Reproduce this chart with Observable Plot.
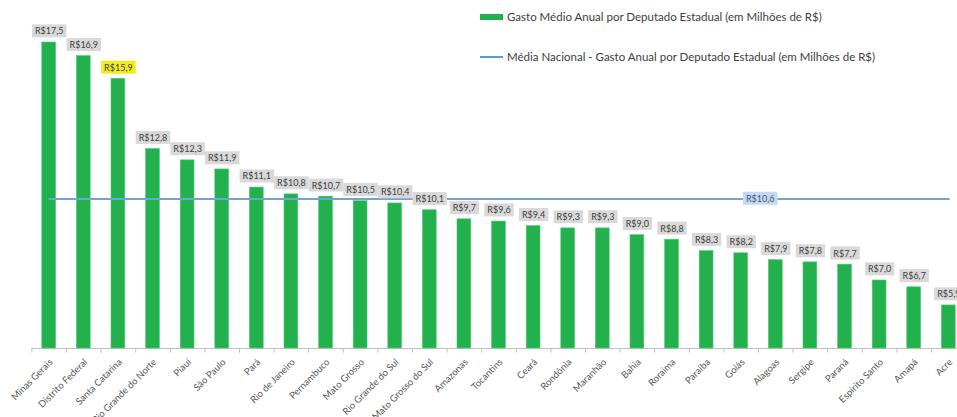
<!DOCTYPE html>
<html>
<head>
<meta charset="utf-8">
<script src="https://cdn.jsdelivr.net/npm/d3@7"></script>
<script src="https://cdn.jsdelivr.net/npm/@observablehq/plot@0.6"></script>
<style>
  html, body { margin: 0; padding: 0; background: #fff; }
  #wrap { position: relative; width: 957px; height: 417px; font-family: Lato, "Open Sans", sans-serif; }
  .legend { position: absolute; left: 480px; font-size: 11.5px; color: #404040; display: flex; align-items: center; white-space: nowrap; }
  .legend .sw { width: 23px; margin-right: 4px; }
</style>
</head>
<body>
<div id="wrap">
  <div class="legend" style="top:10px;"><div class="sw" style="height:6px;background:#22b14c;"></div>Gasto Médio Anual por Deputado Estadual (em Milhões de R$)</div>
  <div class="legend" style="top:50px;"><div class="sw" style="height:2px;background:#5b9bd5;"></div>Média Nacional - Gasto Anual por Deputado Estadual (em Milhões de R$)</div>
</div>
<script>
const states = ["Minas Gerais","Distrito Federal","Santa Catarina","Rio Grande do Norte","Piauí","São Paulo","Pará","Rio de Janeiro","Pernambuco","Mato Grosso","Rio Grande do Sul","Mato Grosso do Sul","Amazonas","Tocantins","Ceará","Rondônia","Maranhão","Bahia","Roraima","Paraíba","Goiás","Alagoas","Sergipe","Paraná","Espírito Santo","Amapá","Acre"];
const values = [17.5,16.9,15.9,12.8,12.3,11.9,11.1,10.8,10.7,10.5,10.4,10.1,9.7,9.6,9.4,9.3,9.3,9.0,8.8,8.3,8.2,7.9,7.8,7.7,7.0,6.7,5.9];
const meanValue = 10.6;
const highlightState = "Santa Catarina";
const meanLabelState = "Goiás";
const yDomain = [4, 17.5];

const fmt = v => "R$" + v.toFixed(1).replace(".", ",");
const data = states.map((s, i) => ({state: s, value: values[i]}));

const chart = Plot.plot({
  width: 957,
  height: 417,
  marginLeft: 31,
  marginRight: 0,
  marginTop: 42,
  marginBottom: 69,
  style: {fontFamily: "Lato, 'Open Sans', sans-serif", background: "transparent"},
  x: {domain: states, range: [31.4, 965.6], paddingInner: 0.6, paddingOuter: 0.3, round: false, axis: null},
  y: {domain: yDomain, axis: null},
  marks: [
    Plot.ruleY([yDomain[0]], {stroke: "#bfbfbf", strokeWidth: 1}),
    Plot.ruleX(states, {x: d => d, y1: yDomain[0], y2: yDomain[0] - 0.2, dx: -17.3, stroke: "#bfbfbf"}),
    Plot.barY(data, {x: "state", y1: yDomain[0], y2: "value", fill: "#22b14c", stroke: "#5cc97a", strokeWidth: 0.6}),
    Plot.lineY(states, {x: d => d, y: () => meanValue, stroke: "#6fa3da", strokeWidth: 2}),
    Plot.text(data, {x: "state", y: "value", dy: -11, text: d => fmt(d.value), fontSize: 9, fill: "#404040"}),
    Plot.text([meanValue], {x: () => meanLabelState, y: d => d, dx: 19, text: d => fmt(d), fontSize: 9, fill: "#3f5b7c"}),
    Plot.text(states, {x: d => d, y: yDomain[0], text: d => d, rotate: -45, textAnchor: "end", dy: 12, dx: 2, fontSize: 9.5, fill: "#595959"})
  ]
});
document.getElementById("wrap").appendChild(chart);
chart.style.position = "absolute";
chart.style.left = "0";
chart.style.top = "0";

function boxes(group, colorFn) {
  group.querySelectorAll("text").forEach((t, i) => {
    const b = t.getBBox();
    const r = document.createElementNS("http://www.w3.org/2000/svg", "rect");
    r.setAttribute("x", b.x - 3);
    r.setAttribute("y", b.y - 1);
    r.setAttribute("width", b.width + 6);
    r.setAttribute("height", b.height + 2);
    r.setAttribute("fill", colorFn(i));
    r.setAttribute("stroke", "none");
    const tr = t.getAttribute("transform");
    if (tr) r.setAttribute("transform", tr);
    t.parentNode.insertBefore(r, t);
  });
}
const textGroups = chart.querySelectorAll('g[aria-label="text"]');
const hi = states.indexOf(highlightState);
boxes(textGroups[0], i => i === hi ? "#f2ec1d" : "#d9d9d9");
boxes(textGroups[1], () => "#c5d9ef");
</script>
</body>
</html>
